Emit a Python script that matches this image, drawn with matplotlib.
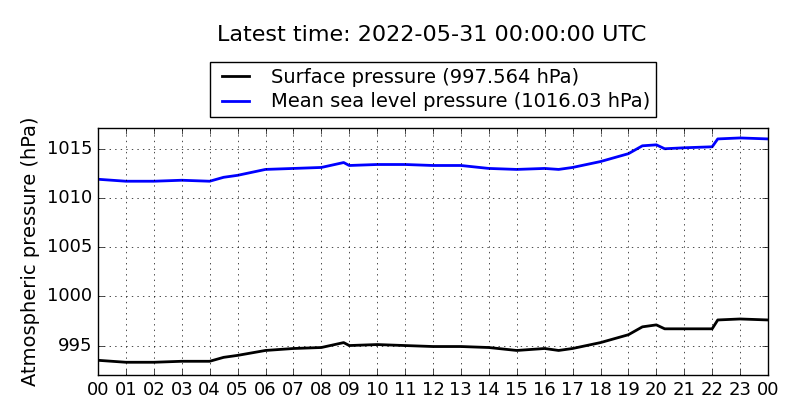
import matplotlib
matplotlib.use('Agg')
import matplotlib.pyplot as plt
import numpy as np

plt.style.use('classic')

# hours since 2022-05-30 00:00 UTC
hours = [0, 1, 2, 3, 4, 4.5, 5, 6, 7, 8, 8.8, 9, 10, 11, 12, 13, 14, 15, 16, 16.5,
         17, 18, 19, 19.5, 20, 20.3, 21, 22, 22.2, 23, 24]
msl = [1011.9, 1011.7, 1011.7, 1011.8, 1011.7, 1012.1, 1012.3, 1012.9, 1013.0, 1013.1,
       1013.6, 1013.3, 1013.4, 1013.4, 1013.3, 1013.3, 1013.0, 1012.9, 1013.0, 1012.9,
       1013.1, 1013.7, 1014.5, 1015.3, 1015.4, 1015.0, 1015.1, 1015.2, 1016.0, 1016.1, 1016.0]
surface = [993.5, 993.3, 993.3, 993.4, 993.4, 993.8, 994.0, 994.5, 994.7, 994.8,
           995.3, 995.0, 995.1, 995.0, 994.9, 994.9, 994.8, 994.5, 994.7, 994.5,
           994.7, 995.3, 996.1, 996.9, 997.1, 996.7, 996.7, 996.7, 997.6, 997.7, 997.6]
tick_labels = ['%02d' % (h % 24) for h in range(25)]

fig = plt.figure(figsize=(8, 4.2), dpi=100, facecolor='white')
ax = fig.add_axes([0.1225, 0.107, 0.8375, 0.588])

ax.plot(hours, surface, color='black', lw=2, label='Surface pressure (997.564 hPa)')
ax.plot(hours, msl, color='blue', lw=2, label='Mean sea level pressure (1016.03 hPa)')

ax.set_xlim(0, 24)
ax.set_ylim(992.0, 1017.1)
ax.set_xticks(range(25))
ax.set_xticklabels(tick_labels)
ax.set_yticks([995, 1000, 1005, 1010, 1015])
ax.yaxis.get_major_formatter().set_useOffset(False)
ax.grid(True, linestyle=':', color='black')
ax.set_ylabel('Atmospheric pressure (hPa)', fontsize=14)
ax.tick_params(labelsize=13)

ax.legend(loc='lower center', bbox_to_anchor=(0.5, 1.02), fontsize=14,
          frameon=True, handlelength=2, borderpad=0.3, labelspacing=0.3,
          borderaxespad=0.3)
fig.text(0.54, 0.917, 'Latest time: 2022-05-31 00:00:00 UTC', ha='center',
         va='center', fontsize=16)

fig.savefig('out.png', dpi=100, facecolor='white')
